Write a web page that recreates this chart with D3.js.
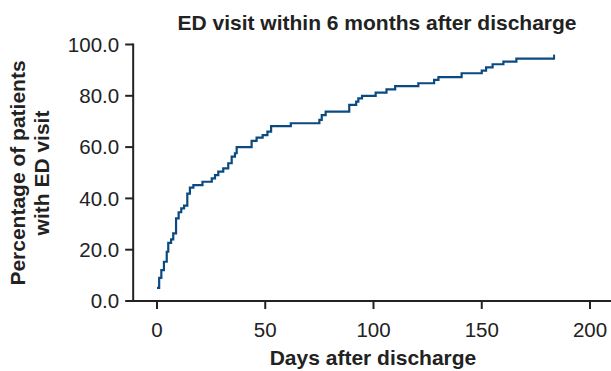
<!DOCTYPE html>
<html>
<head>
<meta charset="utf-8">
<script src="https://cdn.jsdelivr.net/npm/d3@7"></script>
<style>
  body { margin: 0; background: #fff; }
  text { font-family: "Liberation Sans", Arial, sans-serif; fill: #222; }
</style>
</head>
<body>
<div id="chart"></div>
<script>
// step points: day of event, cumulative % after the step
const days = [0, 1, 2, 3.2, 4.5, 5.2, 6.5, 7.5, 8.8, 10, 11.2, 12.5, 14, 15.2, 16.8,
  21, 25.3, 26.8, 28.3, 30.6, 32.9, 34.5, 36, 36.8,
  43.7, 46, 48.8, 51, 52.7, 61.8, 75, 76.1, 77.9,
  88.8, 92, 93, 94.7, 101, 106, 110, 120.7, 128, 130,
  140.7, 150, 152, 155, 160, 166, 183.4];
const pct = [5.1, 9, 12, 15.3, 19.2, 22.7, 24, 26.4, 32.2, 34.6, 36.1, 37.2, 41.9, 44.2, 45.2,
  46.5, 47.8, 49.1, 50.4, 51.7, 53.7, 56.3, 57.6, 60,
  62.4, 63.7, 64.7, 66, 68.2, 69.3, 70.6, 72.5, 73.8,
  76.5, 77.7, 79, 80, 81.2, 82.5, 83.8, 84.9, 86.2, 87.3,
  88.8, 89.8, 91.1, 92.3, 93.3, 94.5, 94.5];

const xTicks = [0, 50, 100, 150, 200];
const yTicks = [0, 20, 40, 60, 80, 100];

const width = 611, height = 371;

const svg = d3.select('#chart').append('svg')
    .attr('width', width)
    .attr('height', height);

const x = d3.scaleLinear().domain([0, 200]).range([157, 590]);
const y = d3.scaleLinear().domain([0, 100]).range([301, 44.5]);

const axisColor = '#222';

// x axis
const xAxis = svg.append('g').attr('transform', 'translate(0,' + y(0) + ')');
xAxis.append('line')
    .attr('x1', x(-11)).attr('x2', x(212))
    .attr('stroke', axisColor).attr('stroke-width', 2);
xAxis.selectAll('.tick').data(xTicks).enter()
    .append('line')
    .attr('x1', (d) => x(d)).attr('x2', (d) => x(d))
    .attr('y1', 0).attr('y2', 8)
    .attr('stroke', axisColor).attr('stroke-width', 2);
xAxis.selectAll('.lbl').data(xTicks).enter()
    .append('text')
    .attr('x', (d) => x(d)).attr('y', 36)
    .attr('text-anchor', 'middle')
    .style('font-size', '20.5px')
    .text((d) => d);

// y axis
const yAxis = svg.append('g').attr('transform', 'translate(' + x(-11) + ',0)');
yAxis.append('line')
    .attr('y1', y(100) - 1).attr('y2', y(0) + 1)
    .attr('stroke', axisColor).attr('stroke-width', 2);
yAxis.selectAll('.tick').data(yTicks).enter()
    .append('line')
    .attr('y1', (d) => y(d)).attr('y2', (d) => y(d))
    .attr('x1', -8).attr('x2', 0)
    .attr('stroke', axisColor).attr('stroke-width', 2);
yAxis.selectAll('.lbl').data(yTicks).enter()
    .append('text')
    .attr('x', -14).attr('y', (d) => y(d))
    .attr('dy', '0.35em')
    .attr('text-anchor', 'end')
    .style('font-size', '20.5px')
    .text((d) => d.toFixed(1));

// curve
const pts = days.map((d, i) => [d, pct[i]]);
const line = d3.line()
    .x((d) => x(d[0]))
    .y((d) => y(d[1]))
    .curve(d3.curveStepAfter);

svg.append('path')
    .attr('d', line(pts))
    .attr('fill', 'none')
    .attr('stroke', '#0b4a80')
    .attr('stroke-width', 2.2);

// censor tick at the end
const last = pts[pts.length - 1];
svg.append('line')
    .attr('x1', x(last[0])).attr('x2', x(last[0]))
    .attr('y1', y(last[1]) + 1).attr('y2', y(last[1]) - 4)
    .attr('stroke', '#0b4a80').attr('stroke-width', 2);

// titles
svg.append('text')
    .attr('x', 377).attr('y', 30)
    .attr('text-anchor', 'middle')
    .style('font-size', '21px').style('font-weight', 'bold')
    .text('ED visit within 6 months after discharge');

svg.append('text')
    .attr('x', 373).attr('y', 365)
    .attr('text-anchor', 'middle')
    .style('font-size', '21px').style('font-weight', 'bold')
    .text('Days after discharge');

const yl = svg.append('text')
    .attr('transform', 'translate(25,173) rotate(-90)')
    .attr('text-anchor', 'middle')
    .style('font-size', '21px').style('font-weight', 'bold');
yl.append('tspan').attr('x', 0).attr('y', 0).text('Percentage of patients');
yl.append('tspan').attr('x', 0).attr('y', 24).text('with ED visit');
</script>
</body>
</html>
